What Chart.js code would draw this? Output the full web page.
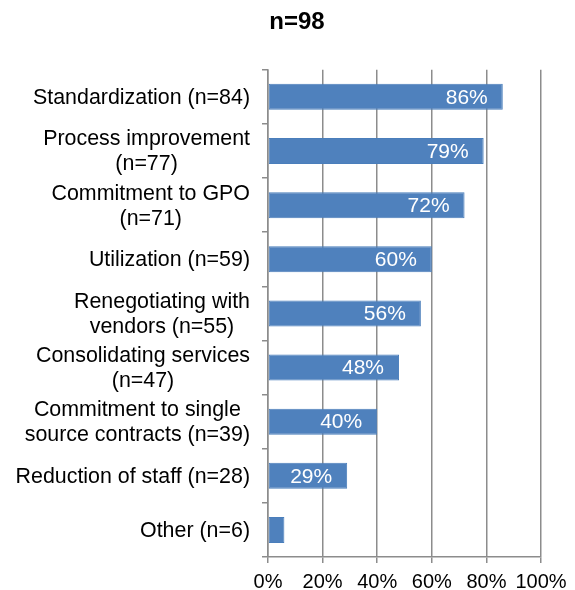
<!DOCTYPE html>
<html>
<head>
<meta charset="utf-8">
<script src="https://cdn.jsdelivr.net/npm/chart.js@4.4.1/dist/chart.umd.min.js"></script>
<style>
  body { margin: 0; background: #fff; }
  canvas { display: block; }
</style>
</head>
<body>
<canvas id="barChart" width="575" height="590"></canvas>
<script>
// Chart data
const categories = [
  ['Standardization (n=84)'],
  ['Process improvement', '(n=77)'],
  ['Commitment to GPO', '(n=71)'],
  ['Utilization (n=59)'],
  ['Renegotiating with', 'vendors (n=55)'],
  ['Consolidating services', '(n=47)'],
  ['Commitment to single', 'source contracts (n=39)'],
  ['Reduction of staff (n=28)'],
  ['Other (n=6)']
];
const percentValues = [86, 79, 72, 60, 56, 48, 40, 29, 6];
const xTicks = [0, 20, 40, 60, 80, 100];
const chartTitle = 'n=98';

const fontFamily = 'Arial, "Liberation Sans", sans-serif';
const gridColor = '#8c8c8c';

// Draws the category labels (lines centred within a right-aligned block)
const categoryLabels = {
  id: 'categoryLabels',
  afterDraw(chart) {
    const { ctx } = chart;
    const y = chart.scales.y;
    const right = y.right - 18;
    ctx.save();
    ctx.font = '21.4px ' + fontFamily;
    ctx.fillStyle = '#000';
    ctx.textAlign = 'center';
    ctx.textBaseline = 'middle';
    categories.forEach((lines, i) => {
      const yc = y.getPixelForValue(i);
      const w = Math.max(...lines.map(l => ctx.measureText(l).width));
      const cx = right - w / 2;
      lines.forEach((line, j) => {
        ctx.fillText(line, cx, yc + 1 + (j - (lines.length - 1) / 2) * 25);
      });
    });
    ctx.restore();
  }
};

// White value labels at the inside end of each bar (skipped if they don't fit)
const valueLabels = {
  id: 'valueLabels',
  afterDatasetsDraw(chart) {
    const { ctx } = chart;
    const meta = chart.getDatasetMeta(0);
    ctx.save();
    ctx.font = '21px ' + fontFamily;
    ctx.fillStyle = '#fff';
    ctx.textAlign = 'right';
    ctx.textBaseline = 'middle';
    meta.data.forEach((bar, i) => {
      const text = percentValues[i] + '%';
      const w = ctx.measureText(text).width;
      if (bar.x - bar.base < w + 20) return;
      ctx.fillText(text, bar.x - 15, bar.y + 1);
    });
    ctx.restore();
  }
};

const config = {
  type: 'bar',
  data: {
    labels: categories.map(l => l.join(' ')),
    datasets: [{
      data: percentValues,
      backgroundColor: '#4f81bd',
      borderColor: '#4a7ebb',
      borderWidth: 1,
      borderSkipped: false,
      categoryPercentage: 1,
      barPercentage: 0.48
    }]
  },
  options: {
    indexAxis: 'y',
    responsive: false,
    animation: false,
    devicePixelRatio: 1,
    layout: {
      padding: { left: 53, right: 34, top: 0, bottom: 0 }
    },
    scales: {
      x: {
        min: 0,
        max: 100,
        afterBuildTicks: scale => {
          scale.ticks = xTicks.map(v => ({ value: v }));
        },
        // keep the axis compact; labels sit near the bottom edge like the original
        afterFit: scale => {
          scale.height = 33;
          scale.paddingLeft = 0;
          scale.paddingRight = 0;
        },
        ticks: {
          callback: v => v + '%',
          color: '#000',
          padding: 11,
          maxRotation: 0,
          font: { family: fontFamily, size: 20, lineHeight: 0.8 }
        },
        grid: {
          color: gridColor,
          lineWidth: 1.5,
          tickLength: 6
        },
        border: { color: gridColor, width: 1.5 }
      },
      y: {
        afterFit: scale => { scale.width = 215; },
        ticks: { display: false },
        grid: {
          offset: true,
          drawOnChartArea: false,
          color: gridColor,
          lineWidth: 1.5,
          tickLength: 6
        },
        border: { color: gridColor, width: 1.5 }
      }
    },
    plugins: {
      legend: { display: false },
      tooltip: { enabled: false },
      title: {
        display: true,
        text: chartTitle,
        color: '#000',
        font: { family: fontFamily, size: 24, weight: 'bold', lineHeight: 1.2 },
        padding: { top: 8, bottom: 33 }
      }
    }
  },
  plugins: [valueLabels, categoryLabels]
};

const ctx = document.getElementById('barChart').getContext('2d');
const barChart = new Chart(ctx, config);
</script>
</body>
</html>
